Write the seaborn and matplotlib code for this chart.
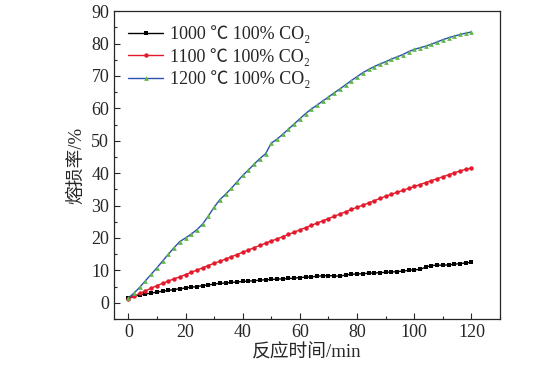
import numpy as np
import pandas as pd
import matplotlib
matplotlib.use("Agg")
import matplotlib.pyplot as plt
import seaborn as sns
from matplotlib.ticker import MultipleLocator

# time axis, every 2 min
time_min = list(range(0, 122, 2))

loss_1000 = [1.5, 2.0, 2.4, 2.7, 3.0, 3.3, 3.6, 3.8, 4.1, 4.3, 4.6,
             4.8, 5.0, 5.3, 5.5, 5.8, 6.0, 6.1, 6.3, 6.4, 6.6,
             6.7, 6.8, 7.0, 7.1, 7.2, 7.3, 7.4, 7.5, 7.6, 7.8,
             7.9, 8.0, 8.2, 8.3, 8.4, 8.3, 8.2, 8.6, 8.8, 8.9,
             9.0, 9.1, 9.2, 9.3, 9.4, 9.5, 9.6, 9.8, 10.0, 10.2,
             10.3, 11.0, 11.5, 11.6, 11.6, 11.7, 11.9, 12.1, 12.3, 12.5]

loss_1100 = [1.2, 2.0, 2.9, 3.7, 4.5, 5.3, 6.0, 6.7, 7.4, 8.0, 8.7,
             9.4, 10.1, 10.8, 11.5, 12.2, 12.8, 13.5, 14.2, 14.9, 15.6,
             16.3, 17.0, 17.7, 18.4, 19.1, 19.7, 20.4, 21.1, 21.8, 22.5,
             23.2, 23.9, 24.6, 25.3, 26.0, 26.7, 27.4, 28.1, 28.8, 29.5,
             30.1, 30.8, 31.5, 32.2, 32.9, 33.5, 34.1, 34.7, 35.3, 35.9,
             36.5, 37.1, 37.7, 38.3, 38.9, 39.5, 40.1, 40.7, 41.2, 41.6]

loss_1200 = [1.5, 3.0, 4.8, 6.8, 8.8, 10.8, 12.9, 15.0, 17.0, 18.9, 20.0,
             21.2, 22.6, 24.3, 26.8, 29.5, 31.8, 33.5, 35.3, 37.3, 39.3,
             41.0, 42.8, 44.5, 46.0, 49.3, 50.5, 52.0, 53.6, 55.2, 56.8,
             58.4, 59.8, 61.0, 62.3, 63.5, 64.8, 66.0, 67.3, 68.6, 69.8,
             71.0, 72.0, 72.9, 73.7, 74.4, 75.2, 75.9, 76.6, 77.5, 78.2,
             78.7, 79.2, 79.8, 80.5, 81.2, 81.8, 82.3, 82.8, 83.2, 83.6]

labels = ["1000 ℃ 100% CO₂", "1100 ℃ 100% CO₂", "1200 ℃ 100% CO₂"]

sns.set_style("ticks")
plt.rcParams['font.family'] = ['Liberation Serif', 'Noto Sans CJK SC', 'DejaVu Sans']

df = pd.DataFrame({"t": time_min, "a": loss_1000, "b": loss_1100, "c": loss_1200})

fig = plt.figure(figsize=(5.6, 3.72), dpi=100)
ax = fig.add_axes([0.2036, 0.1425, 0.6894, 0.8275])

sns.lineplot(data=df, x="t", y="a", ax=ax, color="black", lw=1.0,
             marker="s", markersize=3.2, markeredgewidth=0, label=labels[0])
sns.lineplot(data=df, x="t", y="b", ax=ax, color="#e31a2c", lw=1.0,
             marker="o", markersize=3.2, markeredgewidth=0, label=labels[1])
sns.lineplot(data=df, x="t", y="c", ax=ax, color="#2b4fb3", lw=1.0,
             marker="^", markersize=3.4, markeredgewidth=0,
             markerfacecolor="#5fb846", label=labels[2])

ax.set_xlim(-5, 130)
ax.set_ylim(-5, 90)
ax.xaxis.set_major_locator(MultipleLocator(20))
ax.xaxis.set_minor_locator(MultipleLocator(10))
ax.yaxis.set_major_locator(MultipleLocator(10))
ax.yaxis.set_minor_locator(MultipleLocator(5))
ax.tick_params(which="both", direction="in", top=False, right=False, labelsize=13)
ax.tick_params(which="major", length=4, width=0.8)
ax.tick_params(which="minor", length=2.5, width=0.8)
for s in ax.spines.values():
    s.set_linewidth(0.9)
    s.set_visible(True)

ax.set_xlabel("反应时间/min", fontsize=13.5, labelpad=2)
ax.set_ylabel("熔损率/%", fontsize=13.5, labelpad=4)

ax.legend(loc="upper left", frameon=False, fontsize=13, handlelength=1.9,
          handletextpad=0.4, labelspacing=0.25, borderaxespad=0.4,
          bbox_to_anchor=(0.0, 1.0))

fig.savefig("out.png", dpi=100)
